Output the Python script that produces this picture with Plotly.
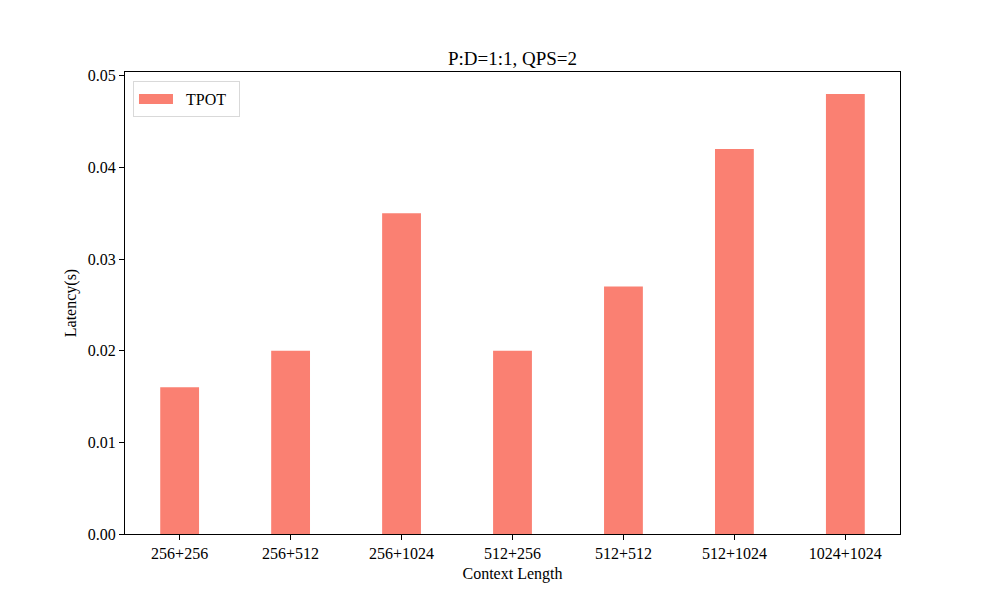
import plotly.graph_objects as go

categories = ["256+256", "256+512", "256+1024", "512+256", "512+512", "512+1024", "1024+1024"]
tpot = [0.016, 0.020, 0.035, 0.020, 0.027, 0.042, 0.048]
y_ticks = [0.00, 0.01, 0.02, 0.03, 0.04, 0.05]

xpos = list(range(len(categories)))
color = "#FA8072"

fig = go.Figure()
fig.add_trace(go.Bar(x=xpos, y=tpot, width=0.35, name="TPOT", showlegend=False,
                     marker=dict(color=color, line=dict(width=0))))
# legend entry drawn as a wide patch like matplotlib
fig.add_trace(go.Scatter(x=[None], y=[None], mode="lines", name="\u2002TPOT\u2002",
                         line=dict(color=color, width=11), showlegend=True))

font = "Liberation Serif, Times New Roman, serif"
fig.update_layout(
    width=1000, height=600,
    margin=dict(l=117, r=108, t=64, b=74),
    paper_bgcolor="white", plot_bgcolor="white",
    font=dict(family=font, size=16, color="black"),
    title=dict(text="P:D=1:1, QPS=2", x=0.5125 - 0.008, xanchor="center", y=1 - 50/600, yanchor="middle",
               font=dict(size=19, family=font)),
    showlegend=True,
    legend=dict(x=0.0103, y=0.9805, xanchor="left", yanchor="top",
                bordercolor="#d9d9d9", borderwidth=1, bgcolor="rgba(255,255,255,0.8)",
                itemwidth=34,
                font=dict(size=16, family=font)),
    xaxis=dict(range=[-0.4925, 6.4925], tickmode="array", tickvals=xpos, ticktext=categories,
               showline=True, linecolor="black", linewidth=1.3, mirror=True,
               ticks="outside", ticklen=5, tickcolor="black", showgrid=False, zeroline=False,
               title=dict(text="Context Length", font=dict(size=16), standoff=6),
               tickfont=dict(size=16)),
    yaxis=dict(range=[0, 0.0504], tickmode="array", tickvals=y_ticks,
               ticktext=[f"{v:.2f}" for v in y_ticks],
               showline=True, linecolor="black", linewidth=1.3, mirror=True,
               ticks="outside", ticklen=5, tickcolor="black", showgrid=False, zeroline=False,
               title=dict(text="Latency(s)", font=dict(size=16), standoff=7),
               tickfont=dict(size=16)),
)
fig.write_html("out.html")
